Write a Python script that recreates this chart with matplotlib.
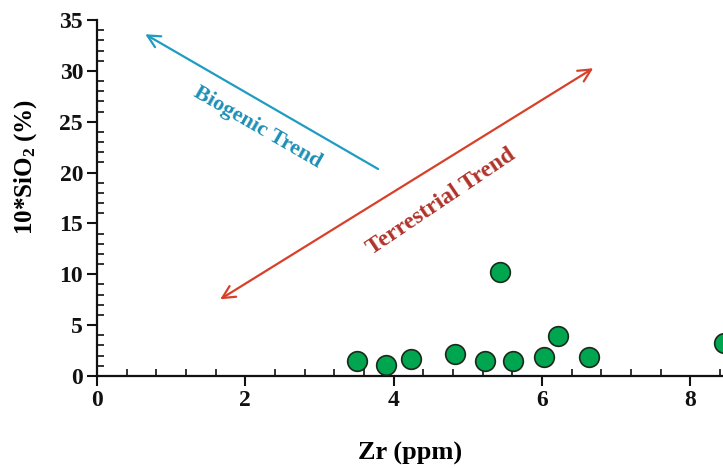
import matplotlib
matplotlib.use("Agg")
import matplotlib.pyplot as plt
from matplotlib.ticker import MultipleLocator

zr = [3.51, 3.90, 4.24, 4.83, 5.23, 5.61, 6.02, 6.22, 6.63, 5.43, 8.46]
sio2 = [1.50, 1.08, 1.64, 2.16, 1.50, 1.50, 1.89, 3.96, 1.89, 10.25, 3.27]

x_ticks = [0, 2, 4, 6, 8]
y_ticks = [0, 5, 10, 15, 20, 25, 30, 35]

bio_tail = (3.79, 20.35)
bio_head = (0.65, 33.6)
ter_low = (1.66, 7.54)
ter_high = (6.69, 30.26)

plt.rcParams['font.family'] = ['Liberation Serif', 'DejaVu Serif']
plt.rcParams['font.weight'] = 'bold'
plt.rcParams['mathtext.fontset'] = 'custom'
plt.rcParams['mathtext.rm'] = 'Liberation Serif:bold'
plt.rcParams['mathtext.bf'] = 'Liberation Serif:bold'
plt.rcParams['mathtext.it'] = 'Liberation Serif:bold'

fig = plt.figure(figsize=(7.23, 4.68), dpi=100)
ax = fig.add_axes([97/723, 92/468, 626/723, 356/468])
ax.set_xlim(0, 8.44)
ax.set_ylim(0, 35)

for s in ['top', 'right']:
    ax.spines[s].set_visible(False)
for s in ['left', 'bottom']:
    ax.spines[s].set_linewidth(1.6)
    ax.spines[s].set_color('#111111')

ax.set_xticks(x_ticks)
ax.set_yticks(y_ticks)
ax.xaxis.set_minor_locator(MultipleLocator(0.4))
ax.yaxis.set_minor_locator(MultipleLocator(1))
ax.tick_params(axis='both', which='major', direction='out', length=7, width=1.5,
               labelsize=17, colors='#111111')
ax.tick_params(axis='both', which='minor', direction='in', length=5, width=1.2,
               colors='#111111')
ax.tick_params(axis='x', which='major', pad=3)
ax.tick_params(axis='y', which='major', pad=3)
for lab in ax.get_xticklabels() + ax.get_yticklabels():
    lab.set_fontweight('bold')

ax.scatter(zr, sio2, s=200, color='#00A550', edgecolors='#1a2a1a', linewidths=1.2,
           zorder=3, clip_on=False)

ax.annotate('', xy=bio_head, xytext=bio_tail,
            arrowprops=dict(arrowstyle='->,head_length=0.9,head_width=0.45',
                            color='#1F9CC2', lw=1.6, shrinkA=0, shrinkB=0))
ax.annotate('', xy=ter_high, xytext=ter_low,
            arrowprops=dict(arrowstyle='<->,head_length=0.9,head_width=0.45',
                            color='#D8402A', lw=1.6, shrinkA=0, shrinkB=0))

ax.text(2.16, 24.4, 'Biogenic Trend', rotation=-30, rotation_mode='anchor',
        ha='center', va='center', fontsize=16, fontweight='bold', color='#1E8FB5')
ax.text(4.64, 17.1, 'Terrestrial Trend', rotation=34, rotation_mode='anchor',
        ha='center', va='center', fontsize=17, fontweight='bold', color='#B0332A')

ax.set_ylabel(r'10*SiO$_{2}$ (%)', fontsize=18, fontweight='bold')
ax.yaxis.set_label_coords(-0.092, 0.587)
ax.set_xlabel('Zr (ppm)', fontsize=19, fontweight='bold', labelpad=22)

fig.savefig('out.png', dpi=100)
